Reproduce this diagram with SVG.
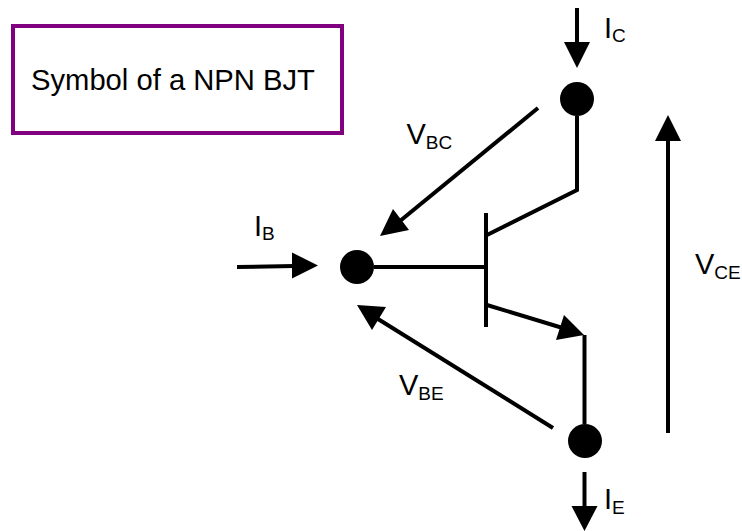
<svg xmlns="http://www.w3.org/2000/svg" width="742" height="531" viewBox="0 0 742 531">
<style>
text{font-family:"Liberation Sans",Arial,sans-serif;fill:#000}
.t{font-size:29px}.s{font-size:19px}
.l{fill:none;stroke:#000;stroke-width:4}
.h{fill:#000;stroke:none}
</style>
<rect width="742" height="531" fill="#fff"/>
<g id="title"><rect x="13" y="26" width="329" height="107" fill="#fff" stroke="#800080" stroke-width="4"/><text x="31" y="89.500" style="font-size:29.200px">Symbol of a NPN BJT</text></g>
<g id="connectors">
<path class="l" d="M374 267H486"/>
<path class="l" d="M486 213V327"/>
<path class="l" d="M487 235L577 190V116"/>
<path class="l" d="M487 305L566 329"/>
<path class="l" d="M584.500 335V424"/>
<polygon class="h" points="584,335 564,315 556,340"/>
<path class="l" d="M577 8V44"/><polygon class="h" points="577,68 564,42 590,42"/>
<path class="l" d="M584.500 472V508"/><polygon class="h" points="584.500,531 571.500,506 597.500,506"/>
<path class="l" d="M237 267L294 266"/><polygon class="h" points="318,265.500 292,252.500 292,278.500"/>
<path class="l" d="M538 108L400 221"/><polygon class="h" points="380,236 393,209 409,230"/>
<path class="l" d="M553 428L378 319"/><polygon class="h" points="357,305 386,307 372,330"/>
<path class="l" d="M668 433V139"/><polygon class="h" points="668,115 655,141 681,141"/>
</g>
<g id="base"><circle cx="357" cy="267" r="17"/></g>
<g id="collector"><circle cx="577" cy="99" r="17"/></g>
<g id="emitter"><circle cx="585" cy="441" r="17"/></g>
<g id="labels">
<text class="t" x="604" y="38">I<tspan class="s" dy="4">C</tspan></text>
<text class="t" x="254" y="236">I<tspan class="s" dy="4">B</tspan></text>
<text class="t" x="406.500" y="144">V<tspan class="s" dy="5">BC</tspan></text>
<text class="t" x="399" y="395">V<tspan class="s" dy="4.500">BE</tspan></text>
<text class="t" x="695" y="274">V<tspan class="s" dy="5">CE</tspan></text>
<text class="t" x="604" y="509">I<tspan class="s" dy="5">E</tspan></text>
</g>
</svg>
